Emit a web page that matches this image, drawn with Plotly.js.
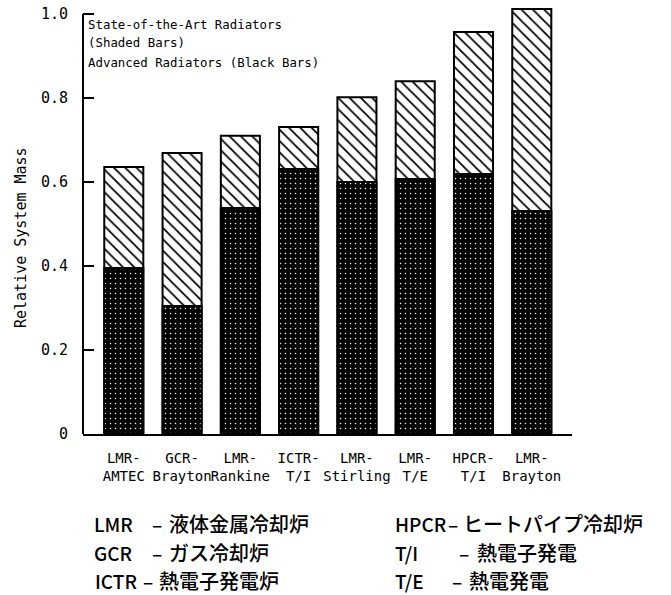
<!DOCTYPE html>
<html>
<head>
<meta charset="utf-8">
<script src="https://cdn.plot.ly/plotly-3.0.1.min.js"></script>
<style>html,body{margin:0;padding:0;background:#fff;}</style>
</head>
<body>
<div id="chart" style="width:671px;height:595px;"></div>
<script>
// ---- data ----
var systems = ["LMR-<br>AMTEC", "GCR-<br>Brayton", "LMR-<br>Rankine", "ICTR-<br>T/I",
               "LMR-<br>Stirling", "LMR-<br>T/E", "HPCR-<br>T/I", "LMR-<br>Brayton"];
var stateOfArtMass = [0.636, 0.669, 0.710, 0.731, 0.802, 0.840, 0.957, 1.012];
var advancedMass   = [0.395, 0.305, 0.538, 0.631, 0.600, 0.607, 0.619, 0.531];
var yTickVals   = [0, 0.2, 0.4, 0.6, 0.8, 1.0];
var yTickLabels = ["0", "0.2", "0.4", "0.6", "0.8", "1.0"];
var legendLines = ["State-of-the-Art Radiators", "(Shaded Bars)", "Advanced Radiators (Black Bars)"];
var glossAbbr = ["LMR", "GCR", "ICTR", "HPCR", "T/I", "T/E"];
var glossText = ["液体金属冷却炉", "ガス冷却炉", "熱電子発電炉", "ヒートパイプ冷却炉", "熱電子発電", "熱電発電"];

// ---- layout helpers (pixel -> paper) ----
var ML = 83, MT = 1, PW = 489, PH = 433;
var YMAX = PH / 420;
function px(x) { return (x - ML) / PW; }
function py(y) { return (MT + PH - y) / PH; }

var mono = "DejaVu Sans Mono, monospace";
var jp = "Noto Sans CJK JP, sans-serif";

var traces = [
  {
    type: "bar", x: systems, y: stateOfArtMass, width: 0.67,
    marker: { color: "white", line: { color: "black", width: 2 },
      pattern: { shape: "\\", fgcolor: "black", bgcolor: "white", size: 8, solidity: 0.22 } },
    hoverinfo: "skip", showlegend: false
  },
  {
    type: "bar", x: systems, y: advancedMass, width: 0.67,
    marker: { color: "black", line: { color: "black", width: 2 },
      pattern: { shape: ".", fgcolor: "white", bgcolor: "black", size: 5, solidity: 0.07 } },
    hoverinfo: "skip", showlegend: false
  }
];

var annotations = [];
// legend text block
var legY = [24, 43, 63];
legendLines.forEach(function (t, i) {
  annotations.push({ xref: "paper", yref: "paper", x: px(86), y: py(legY[i]), xanchor: "left", yanchor: "middle",
    text: t, showarrow: false, font: { family: mono, size: 12.4, color: "black" } });
});
// y-axis title
annotations.push({ xref: "paper", yref: "paper", x: px(21), y: py(238), xanchor: "center", yanchor: "middle",
  text: "Relative System Mass", textangle: -90, showarrow: false, font: { family: mono, size: 15, color: "black" } });
// glossary
var gAbbrX = [92, 92, 93, 393, 393, 393];
var gDashX = [150, 150, 141, 446, 457, 450];
var gTextX = [167, 167, 157, 461, 475, 467];
var gRowY  = [523, 552, 580, 523, 552, 580];
glossAbbr.forEach(function (a, i) {
  annotations.push({ xref: "paper", yref: "paper", x: px(gAbbrX[i]), y: py(gRowY[i]), xanchor: "left", yanchor: "middle",
    text: a, showarrow: false, font: { family: jp, size: 19, weight: 500, color: "black" } });
  annotations.push({ xref: "paper", yref: "paper", x: px(gDashX[i]), y: py(gRowY[i]), xanchor: "left", yanchor: "middle",
    text: "–", showarrow: false, font: { family: jp, size: 19, weight: 500, color: "black" } });
  annotations.push({ xref: "paper", yref: "paper", x: px(gTextX[i]), y: py(gRowY[i]), xanchor: "left", yanchor: "middle",
    text: glossText[i], showarrow: false, font: { family: jp, size: 20, weight: 500, color: "black" } });
});

var layout = {
  width: 671, height: 595,
  margin: { l: ML, r: 671 - ML - PW, t: MT, b: 595 - MT - PH, pad: 0 },
  paper_bgcolor: "white", plot_bgcolor: "white",
  barmode: "overlay", showlegend: false,
  xaxis: {
    type: "category", range: [-0.7, 7.69], showgrid: false, zeroline: false,
    showline: true, linecolor: "black", linewidth: 2, ticks: "", tickangle: 0,
    ticklabelstandoff: 10,
    tickfont: { family: mono, size: 14, color: "black" }, fixedrange: true
  },
  yaxis: {
    range: [0, YMAX], showgrid: false, zeroline: false, showline: false,
    ticks: "inside", ticklen: 11, tickwidth: 2, tickcolor: "black",
    tickvals: yTickVals, ticktext: yTickLabels, ticklabelstandoff: 14,
    tickfont: { family: mono, size: 15, color: "black" }, fixedrange: true
  },
  shapes: [
    { type: "line", xref: "paper", yref: "y", x0: 0, x1: 0, y0: 0, y1: 1.0,
      line: { color: "black", width: 2 } }
  ],
  annotations: annotations
};

Plotly.newPlot("chart", traces, layout, { staticPlot: true, displayModeBar: false });
</script>
</body>
</html>
